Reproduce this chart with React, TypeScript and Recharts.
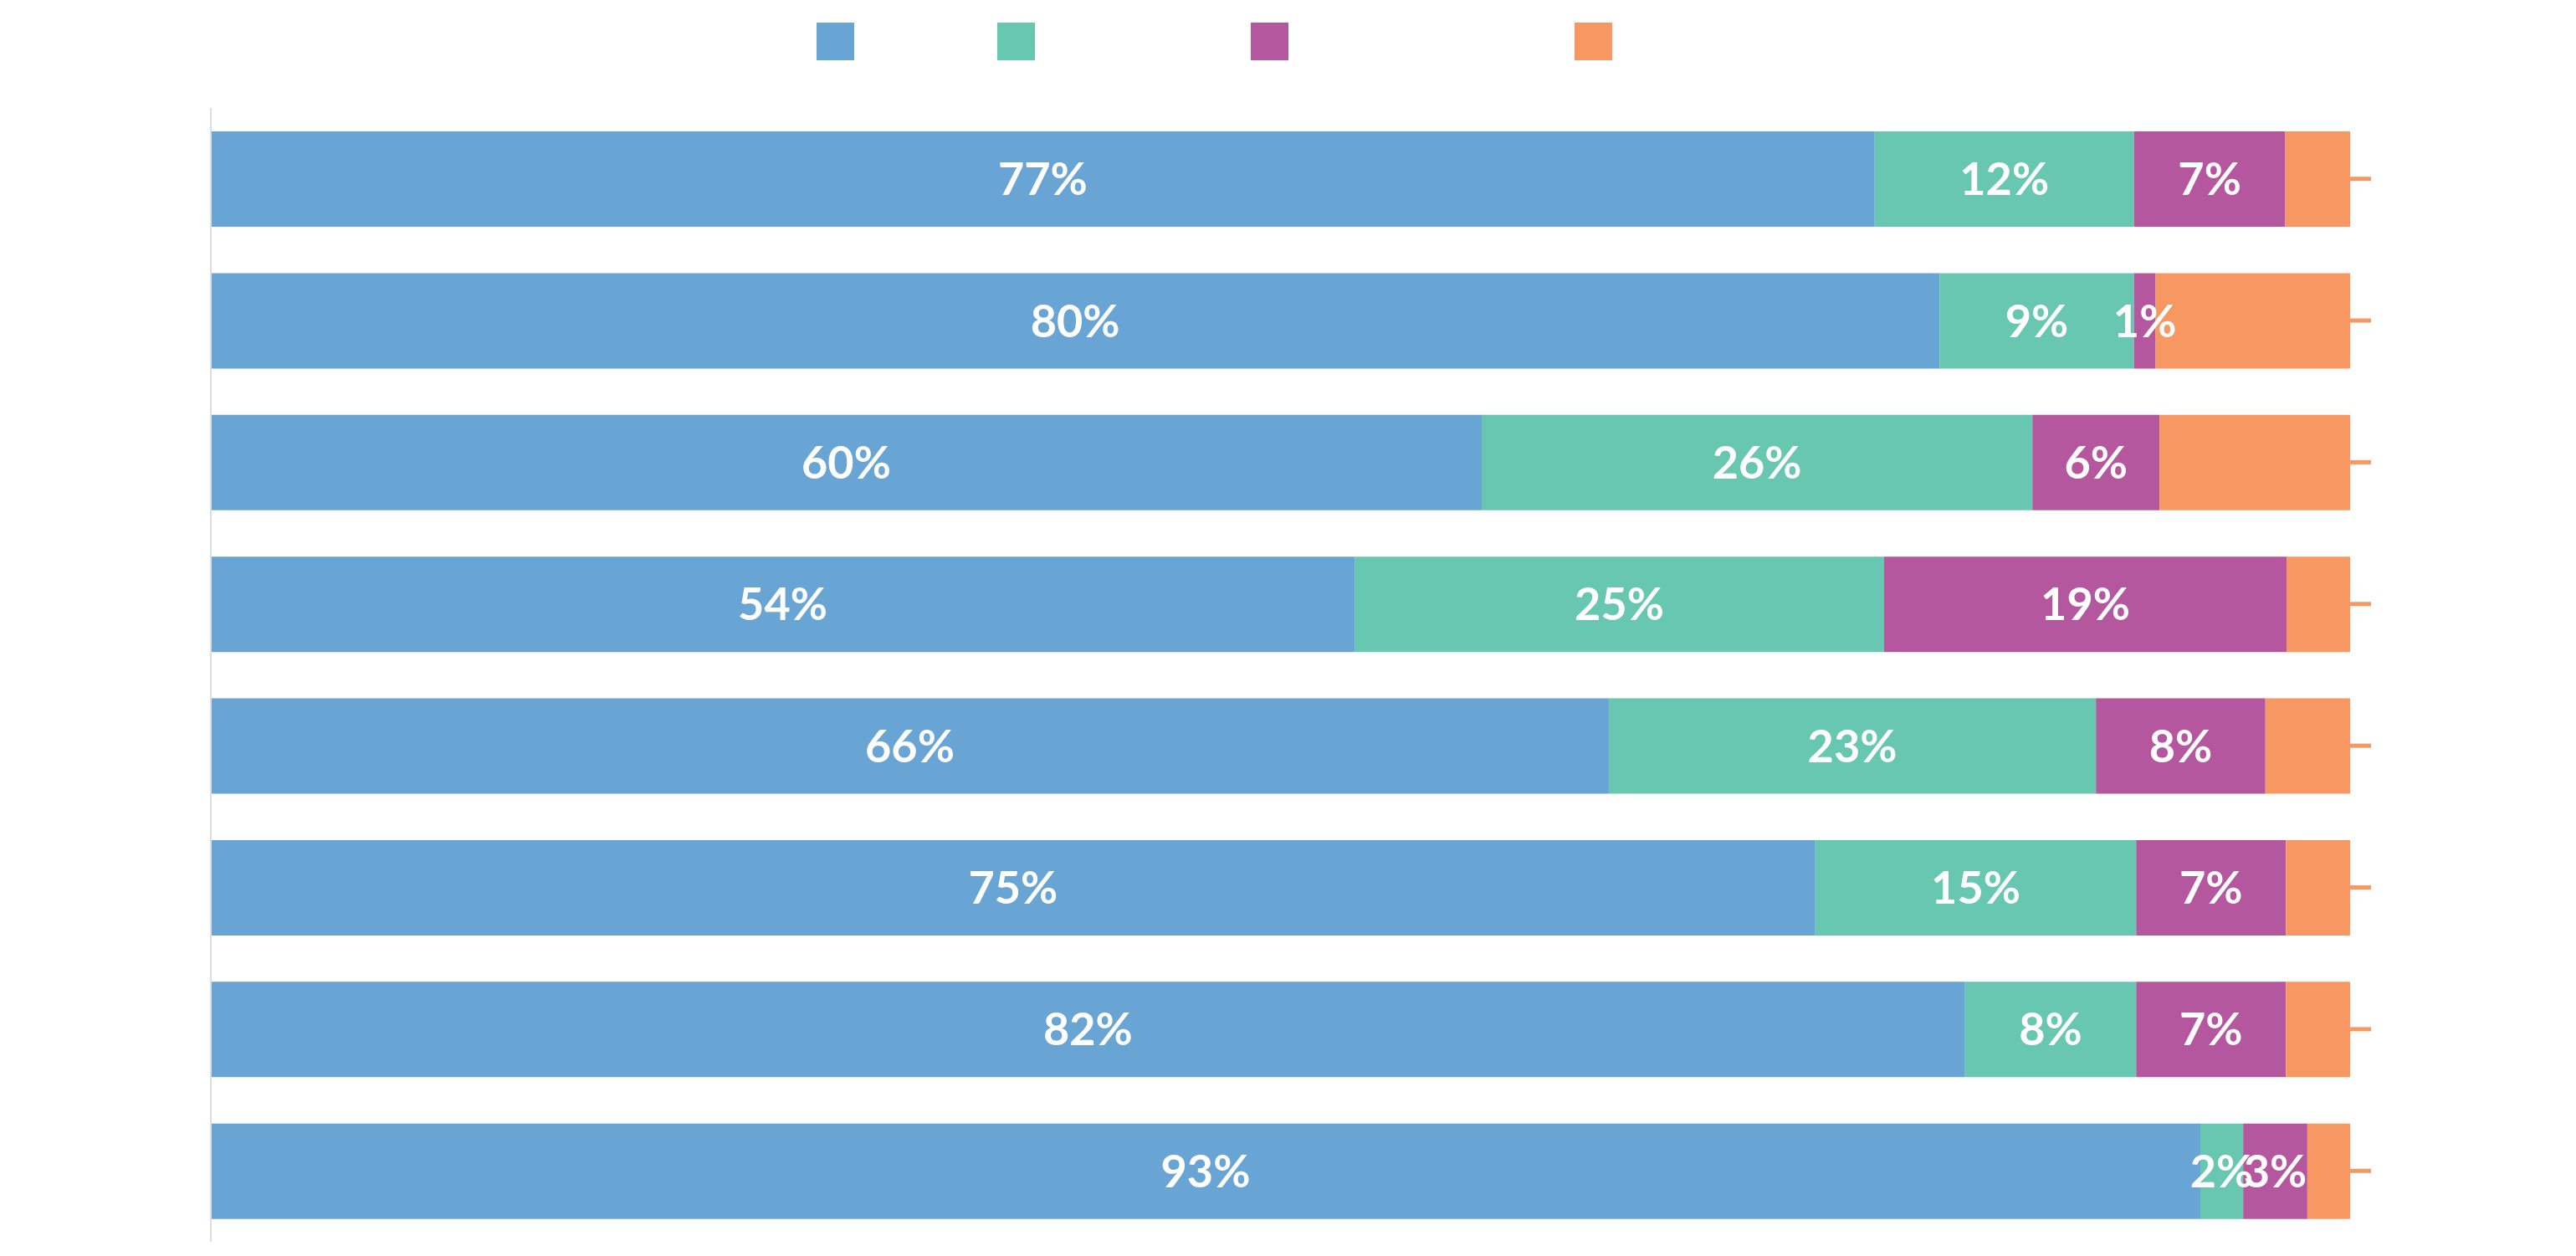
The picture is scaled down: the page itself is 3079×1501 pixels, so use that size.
import React from "react";
import { BarChart, Bar, XAxis, YAxis, LabelList, Legend } from "recharts";

const categories = ["1", "2", "3", "4", "5", "6", "7", "8"];
const blueValues = [77, 80, 60, 54, 66, 75, 82, 93];
const tealValues = [12, 9, 26, 25, 23, 15, 8, 2];
const purpleValues = [7, 1, 6, 19, 8, 7, 7, 3];
const orangeValues = [3, 9, 9, 3, 4, 3, 3, 2];

const seriesKeys = ["blue", "teal", "purple", "orange"];
const seriesColors = ["#68A5D4", "#67C7B0", "#B5579E", "#F79862"];

const data = categories.map((c, i) => ({
  name: c,
  blue: blueValues[i],
  teal: tealValues[i],
  purple: purpleValues[i],
  orange: orangeValues[i],
}));

const W = 3063;
const H = 1485;
const legendItemWidths = [216, 303, 387, 221];
const TICK_LEN = 25;

const LegendContent = () => (
  <div style={{ height: 121, position: "relative", width: W }}>
    <div
      style={{
        position: "absolute",
        top: 19,
        left: 0,
        width: W,
        display: "flex",
        justifyContent: "center",
      }}
    >
      {seriesColors.map((col, i) => (
        <div key={i} style={{ width: legendItemWidths[i], height: 45 }}>
          <div style={{ width: 45, height: 45, background: col }} />
        </div>
      ))}
    </div>
  </div>
);

const RightTick = (props: any) => {
  const { x, y } = props;
  return (
    <line
      x1={x}
      x2={x + TICK_LEN}
      y1={y}
      y2={y}
      stroke="#F79862"
      strokeWidth={5}
    />
  );
};

const labelStyle = {
  fill: "#ffffff",
  fontSize: 54,
  fontWeight: 700,
  fontFamily: "Lato, 'Open Sans', sans-serif",
};

const fmt = (v: any) => `${v}%`;

export default function App() {
  return (
    <div style={{ width: W, height: H }}>
      <BarChart
        width={W}
        height={H}
        data={data}
        layout="vertical"
        stackOffset="expand"
        barSize={114}
        margin={{ top: 0, right: 202, bottom: 9, left: 234 }}
      >
        <Legend
          verticalAlign="top"
          align="left"
          content={<LegendContent />}
          wrapperStyle={{ left: 0, top: 0, width: W, height: 121 }}
        />
        <XAxis type="number" hide domain={[0, 1]} />
        <YAxis
          type="category"
          dataKey="name"
          width={10}
          tick={false}
          tickLine={false}
          axisLine={{ stroke: "#dddddd", strokeWidth: 2 }}
        />
        <YAxis
          yAxisId="right"
          orientation="right"
          type="category"
          dataKey="name"
          width={60}
          axisLine={false}
          tickLine={false}
          tickSize={0}
          tickMargin={0}
          tick={<RightTick />}
        />
        {seriesKeys.map((k, i) => (
          <Bar
            key={k}
            dataKey={k}
            stackId="a"
            fill={seriesColors[i]}
            isAnimationActive={false}
          >
            {k !== "orange" && (
              <LabelList
                dataKey={k}
                position="center"
                formatter={fmt}
                style={labelStyle as any}
                fill="#ffffff"
              />
            )}
          </Bar>
        ))}
      </BarChart>
    </div>
  );
}
